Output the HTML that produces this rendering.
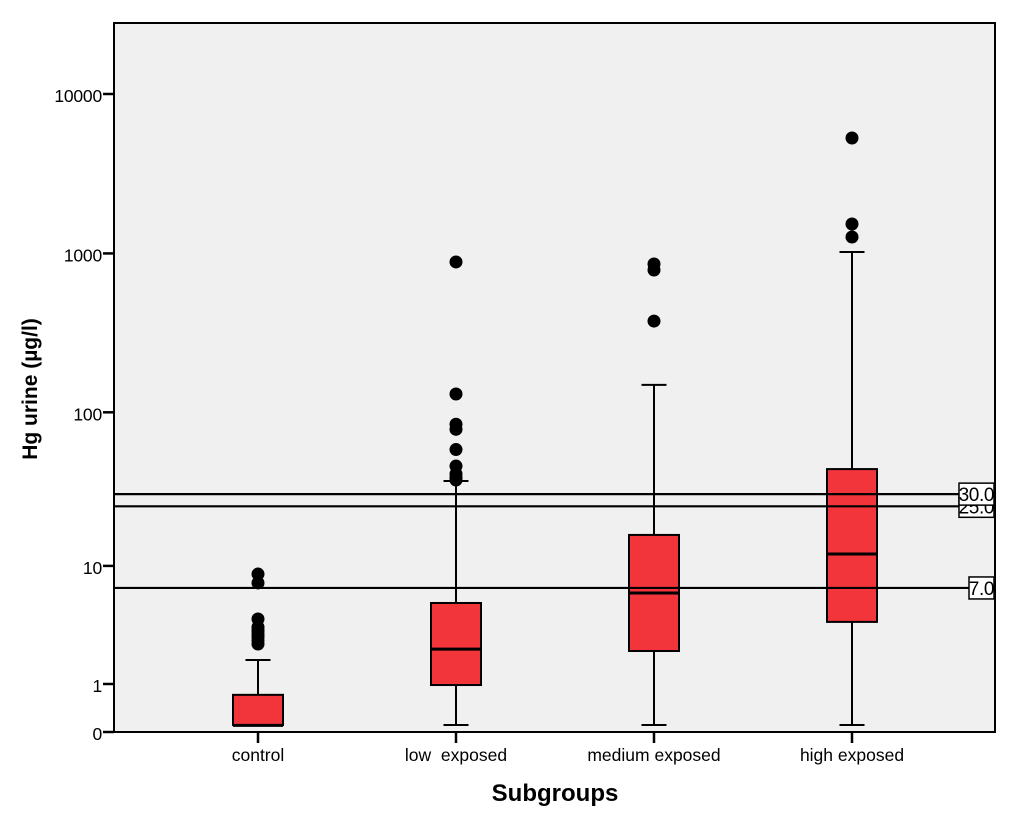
<!DOCTYPE html>
<html lang="en">
<head>
<meta charset="utf-8">
<title>Hg urine by subgroup</title>
<style>
html,body{margin:0;padding:0;background:#fff;}
body{width:1024px;height:822px;overflow:hidden;}
svg{display:block;font-family:"Liberation Sans",Arial,sans-serif;filter:blur(0.3px);}
</style>
</head>
<body>
<svg id="chart" xmlns="http://www.w3.org/2000/svg" width="1024" height="822" viewBox="0 0 1024 822"></svg>
<script>
const categories = ['control', 'low  exposed', 'medium exposed', 'high exposed'];
const q1Values = [0.106, 0.97, 2.22, 3.9];
const medianValues = [0.1, 2.31, 6.44, 12.06];
const q3Values = [0.71, 5.44, 16.2, 43.5];
const whiskerLowValues = [0.106, 0.106, 0.106, 0.106];
const whiskerHighValues = [1.83, 36.5, 149, 1021];
const outliersControl = [8.78, 7.6, 4.11, 3.55, 3.35, 3.24, 3.05, 2.94, 2.75, 2.56];
const outliersLow = [884, 130.5, 84, 78, 58, 45.5, 40.5, 38.5, 37];
const outliersMedium = [859, 787, 376];
const outliersHigh = [5296, 1530, 1268];
const outliers = [outliersControl, outliersLow, outliersMedium, outliersHigh];
const yTicks = [0, 1, 10, 100, 1000, 10000];
const referenceValues = [25, 30, 7];
const referenceLabels = ['25.0', '30.0', '7.0'];

const plotLeft = 114, plotRight = 995, plotTop = 23, plotBottom = 732;
const NS = 'http://www.w3.org/2000/svg';
const svg = document.getElementById('chart');

function yScale(v) { return plotBottom - 159.5 * Math.log10(v + 1); }
function xScale(i) { return 258 + 198 * i; }

function make(tag, attrs, parent, text) {
  const el = document.createElementNS(NS, tag);
  for (const k in attrs) el.setAttribute(k, attrs[k]);
  if (text !== undefined) el.textContent = text;
  (parent || svg).appendChild(el);
  return el;
}

const plotBg = make('rect', {x: plotLeft, y: plotTop, width: plotRight - plotLeft, height: plotBottom - plotTop, fill: '#f0f0f0', stroke: '#000', 'stroke-width': 2});



// y ticks
yTicks.forEach(function (t) {
  const y = yScale(t);
  const tick = make('line', {x1: plotLeft - 11, x2: plotLeft, y1: y, y2: y, stroke: '#000', 'stroke-width': 2.5});
  
  
  const label = make('text', {x: plotLeft - 12, y: y + 8, 'text-anchor': 'end', 'font-size': 17.5, 'letter-spacing': '-0.2', fill: '#000'}, svg, String(t));
  
  
});

// boxes
categories.forEach(function (c, i) {
  const x = xScale(i);
  const halfBox = 25, halfCap = 12.5;

  const tick = make('line', {x1: x, x2: x, y1: plotBottom, y2: plotBottom + 11, stroke: '#000', 'stroke-width': 2.5});
  
  

  const label = make('text', {x: x, y: 761, 'text-anchor': 'middle', 'font-size': 17.5, fill: '#000', 'xml:space': 'preserve', style: 'white-space:pre'}, svg, c);
  
  

  const whisker = make('line', {x1: x, x2: x, y1: yScale(whiskerHighValues[i]), y2: yScale(whiskerLowValues[i]), stroke: '#000', 'stroke-width': 2});
  
  

  [whiskerHighValues[i], whiskerLowValues[i]].forEach(function (v) {
    const cap = make('line', {x1: x - halfCap, x2: x + halfCap, y1: yScale(v), y2: yScale(v), stroke: '#000', 'stroke-width': 2});
    
    
  });

  const box = make('rect', {x: x - halfBox, y: yScale(q3Values[i]), width: halfBox * 2, height: yScale(q1Values[i]) - yScale(q3Values[i]), fill: '#f2343b', stroke: '#000', 'stroke-width': 2});
  
  

  const med = make('line', {x1: x - halfBox, x2: x + halfBox, y1: yScale(medianValues[i]), y2: yScale(medianValues[i]), stroke: '#000', 'stroke-width': 3});
  
  

  outliers[i].forEach(function (v) {
    const dot = make('circle', {cx: x, cy: yScale(v), r: 6.5, fill: '#000'});
    
    
  });
});

// reference lines
referenceValues.forEach(function (v, i) {
  const y = yScale(v);
  const labelText = referenceLabels[i];
  const boxW = labelText.length > 3 ? 36 : 26;
  const line = make('line', {x1: plotLeft, x2: plotRight - boxW, y1: y, y2: y, stroke: '#000', 'stroke-width': 2.2});
  
  
  const rect = make('rect', {x: plotRight - boxW, y: y - 11, width: boxW - 1, height: 22, fill: '#fff', stroke: '#000', 'stroke-width': 1.5});
  
  
  const txt = make('text', {x: plotRight - 1, y: y + 7, 'text-anchor': 'end', 'font-size': 19, 'letter-spacing': '-0.4', fill: '#000'}, svg, labelText);
  
  
});

// redraw frame right edge above the reference boxes
const rightEdge = make('line', {x1: plotRight, x2: plotRight, y1: plotTop, y2: plotBottom, stroke: '#000', 'stroke-width': 2});



const xTitle = make('text', {x: 555, y: 801, 'text-anchor': 'middle', 'font-size': 24, 'font-weight': 'bold', fill: '#000'}, svg, 'Subgroups');



const yTitle = make('text', {x: 0, y: 0, transform: 'translate(37,389) rotate(-90)', 'text-anchor': 'middle', 'font-size': 21, 'font-weight': 'bold', fill: '#000'}, svg, 'Hg urine (µg/l)');


</script>
</body>
</html>
